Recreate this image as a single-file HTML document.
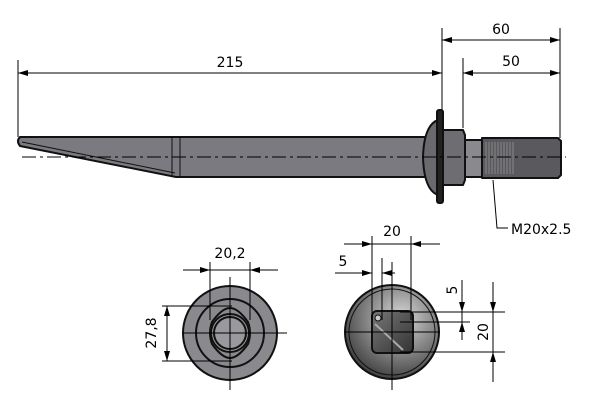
<!DOCTYPE html>
<html><head><meta charset="utf-8"><style>
html,body{margin:0;padding:0;background:#fff;}
svg{display:block;font-family:"DejaVu Sans","Liberation Sans",sans-serif;}
</style></head><body>
<svg width="600" height="410" viewBox="0 0 600 410" xmlns="http://www.w3.org/2000/svg">
<defs>
<marker id="a" viewBox="0 0 10 6" refX="10" refY="3" markerWidth="10" markerHeight="6" orient="auto-start-reverse" markerUnits="userSpaceOnUse"><path d="M0,0L10,3L0,6z" fill="#000"/></marker>
<radialGradient id="g" cx="0.6" cy="0.35" r="0.7"><stop offset="0" stop-color="#d8d8d8"/><stop offset="0.6" stop-color="#7a7a7a"/><stop offset="1" stop-color="#3a3a3a"/></radialGradient>
<linearGradient id="sq" x1="0" y1="0" x2="1" y2="1"><stop offset="0" stop-color="#777"/><stop offset="1" stop-color="#333"/></linearGradient>
</defs>
<g stroke="#000" stroke-width="1" fill="none">
<!-- top dims -->
<line x1="18" y1="60" x2="18" y2="137"/>
<line x1="442" y1="28" x2="442" y2="110"/>
<line x1="463" y1="58" x2="463" y2="128"/>
<line x1="560" y1="28" x2="560" y2="138"/>
<line x1="18" y1="73" x2="442" y2="73" marker-start="url(#a)" marker-end="url(#a)"/>
<line x1="442" y1="40" x2="560" y2="40" marker-start="url(#a)" marker-end="url(#a)"/>
<line x1="463" y1="73" x2="560" y2="73" marker-start="url(#a)" marker-end="url(#a)"/>
<polyline points="493,180 497,228 508,228"/>
</g>
<g font-size="14" fill="#000">
<text x="230" y="67" text-anchor="middle">215</text>
<text x="501" y="34" text-anchor="middle">60</text>
<text x="511" y="66" text-anchor="middle">50</text>
<text x="511" y="234">M20x2.5</text>
</g>
<!-- pin -->
<g stroke="#111" stroke-width="2" stroke-linejoin="round">
<path d="M20,137 L430,137 L430,177 L176,177 L20,146 Q16,141 20,137z" fill="#7a7a80"/>
<line x1="172" y1="137" x2="172" y2="177" stroke-width="1"/>
<line x1="180" y1="137" x2="180" y2="177" stroke-width="1"/>
<line x1="22" y1="142" x2="175" y2="173" stroke-width="1"/>
<path d="M438,120 Q424,125 423,157 Q424,190 438,195z" fill="#6a6a6e"/>
<rect x="437" y="110" width="6" height="93" rx="2" fill="#222"/>
<path d="M443,130 L463,130 L465,135 L465,180 L463,185 L443,185z" fill="#6e6e72"/>
<rect x="465" y="140" width="17" height="37" fill="#8a8a8e"/>
<path d="M482,138 L558,138 L561,141 L561,175 L558,178 L482,178z" fill="#5a5a5e"/>
</g>
<g stroke="#888" stroke-width="1">
<line x1="486" y1="142" x2="486" y2="174"/><line x1="489" y1="142" x2="489" y2="174"/><line x1="492" y1="142" x2="492" y2="174"/><line x1="495" y1="142" x2="495" y2="174"/><line x1="498" y1="142" x2="498" y2="174"/><line x1="501" y1="142" x2="501" y2="174"/><line x1="504" y1="142" x2="504" y2="174"/><line x1="507" y1="142" x2="507" y2="174"/><line x1="510" y1="142" x2="510" y2="174"/><line x1="513" y1="142" x2="513" y2="174"/>
</g>
<line x1="22" y1="157" x2="566" y2="157" stroke="#000" stroke-width="1" stroke-dasharray="14,4,3,4"/>
<!-- left end view -->
<g stroke="#111" stroke-width="2">
<circle cx="230" cy="333" r="47" fill="#8a8a8e"/>
<circle cx="230" cy="333" r="34" fill="#8a8a8e"/>
<path d="M230,308 Q238,308 248,322 Q252,333 248,344 Q238,358 230,358 Q222,358 212,344 Q208,333 212,322 Q222,308 230,308z" fill="#8a8a8e"/>
<circle cx="230" cy="333" r="19" fill="#9a9a9e"/>
<circle cx="230" cy="333" r="16" fill="#9a9a9e"/>
</g>
<g stroke="#000" stroke-width="1" fill="none">
<line x1="230" y1="277" x2="230" y2="390"/><line x1="183" y1="333" x2="287" y2="333"/>
<line x1="210" y1="262" x2="210" y2="320"/><line x1="250" y1="262" x2="250" y2="320"/>
<line x1="183" y1="270" x2="210" y2="270" marker-end="url(#a)"/><line x1="278" y1="270" x2="250" y2="270" marker-end="url(#a)"/><line x1="210" y1="270" x2="250" y2="270"/>
<line x1="162" y1="306" x2="232" y2="306"/><line x1="162" y1="361" x2="232" y2="361"/>
<line x1="167" y1="306" x2="167" y2="361" marker-start="url(#a)" marker-end="url(#a)"/>
</g>
<text x="230" y="258" font-size="14" text-anchor="middle">20,2</text>
<text x="0" y="0" font-size="14" text-anchor="middle" transform="translate(156,333) rotate(-90)">27,8</text>
<!-- right end view -->
<g stroke="#111" stroke-width="2">
<circle cx="392" cy="332" r="47" fill="url(#g)"/>
<circle cx="392" cy="332" r="43" fill="none" stroke-width="1"/>
<rect x="372" y="311" width="41" height="42" rx="5" fill="url(#sq)"/>
<line x1="375" y1="324" x2="403" y2="350" stroke="#aaa" stroke-width="2"/>
<circle cx="378" cy="318" r="3" fill="#ccc" stroke-width="1"/>
</g>
<g stroke="#000" stroke-width="1" fill="none">
<line x1="392" y1="262" x2="392" y2="390"/><line x1="345" y1="332" x2="440" y2="332"/>
<line x1="372" y1="236" x2="372" y2="320"/><line x1="411" y1="236" x2="411" y2="320"/><line x1="382" y1="258" x2="382" y2="320"/>
<line x1="344" y1="244" x2="372" y2="244" marker-end="url(#a)"/><line x1="440" y1="244" x2="411" y2="244" marker-end="url(#a)"/><line x1="372" y1="244" x2="411" y2="244"/>
<line x1="335" y1="273" x2="372" y2="273" marker-end="url(#a)"/><line x1="395" y1="273" x2="382" y2="273" marker-end="url(#a)"/>
<line x1="400" y1="312" x2="505" y2="312"/><line x1="400" y1="352" x2="505" y2="352"/><line x1="400" y1="322" x2="470" y2="322"/>
<line x1="462" y1="280" x2="462" y2="312" marker-end="url(#a)"/><line x1="462" y1="340" x2="462" y2="322" marker-end="url(#a)"/><line x1="462" y1="312" x2="462" y2="322"/>
<line x1="493" y1="282" x2="493" y2="312" marker-end="url(#a)"/><line x1="493" y1="382" x2="493" y2="352" marker-end="url(#a)"/><line x1="493" y1="312" x2="493" y2="352"/>
</g>
<text x="392" y="236" font-size="14" text-anchor="middle">20</text>
<text x="343" y="266" font-size="14" text-anchor="middle">5</text>
<text x="0" y="0" font-size="14" text-anchor="middle" transform="translate(457,290) rotate(-90)">5</text>
<text x="0" y="0" font-size="14" text-anchor="middle" transform="translate(488,332) rotate(-90)">20</text>
</svg>
</body></html>
